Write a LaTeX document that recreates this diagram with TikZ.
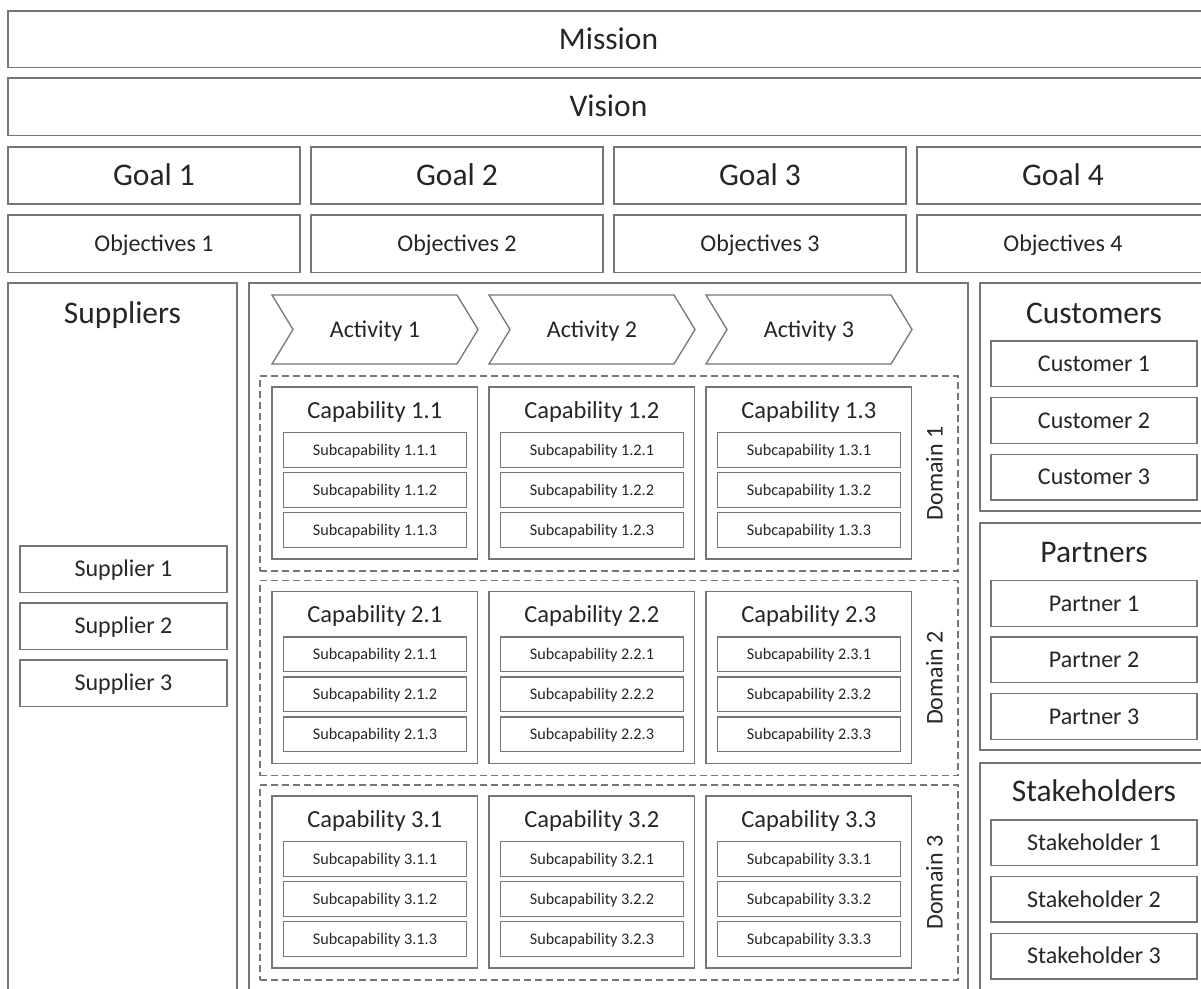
\documentclass[tikz,border=0pt]{standalone}
\usepackage{fontspec}
\setmainfont{Carlito}
\definecolor{linec}{RGB}{118,118,118}
\definecolor{txt}{RGB}{38,38,38}
% \rbox{style}{name}{x1}{y1}{x2}{y2}{text}
\newcommand\rbox[7]{%
  \pgfmathsetmacro{\rbcx}{(#3+#5)/2}%
  \pgfmathsetmacro{\rbcy}{(#4+#6)/2}%
  \pgfmathsetmacro{\rbw}{#5-#3}%
  \pgfmathsetmacro{\rbh}{#6-#4}%
  \node[#1, minimum width=\rbw pt, minimum height=\rbh pt] (#2) at (\rbcx,\rbcy) {#7};%
}
\begin{document}
\begin{tikzpicture}[x=1pt,y=-1pt,
  box/.style={draw=linec, line width=1.3pt, inner sep=0pt, outer sep=0pt, text=txt},
  bigbox/.style={box, font=\fontsize{31.5}{36}\selectfont, text height=20pt, text depth=0pt},
  midbox/.style={box, font=\fontsize{24}{28}\selectfont, text height=15.4pt, text depth=0pt},
  smallbox/.style={box, font=\fontsize{16.2}{19}\selectfont, text height=10.4pt, text depth=0pt},
  dombox/.style={draw=linec, line width=1.2pt, dash pattern=on 7pt off 4pt, inner sep=0pt, outer sep=0pt},
  bigtitle/.style={anchor=base, inner sep=0pt, text=txt, font=\fontsize{31.5}{36}\selectfont},
  captitle/.style={anchor=base, inner sep=0pt, text=txt, font=\fontsize{24.5}{28}\selectfont},
  midtext/.style={inner sep=0pt, text=txt, font=\fontsize{24}{28}\selectfont, text height=15.4pt, text depth=0pt},
  chev/.style={draw=linec, line width=1.3pt, fill=white}
]
\useasboundingbox[fill=white] (0,0) rectangle (1201,988);
\clip (0,0) rectangle (1201,988);

% top rows
\rbox{bigbox}{mission}{8}{11}{1209}{67.5}{Mission}
\rbox{bigbox}{vision}{8}{78}{1209}{135.5}{Vision}
\foreach \i in {0,1,2,3} {
  \pgfmathsetmacro{\xa}{8+303*\i}
  \pgfmathsetmacro{\xb}{\xa+292}
  \pgfmathtruncatemacro{\n}{\i+1}
  \rbox{bigbox}{goal\n}{\xa}{147}{\xb}{204}{Goal \n}
  \rbox{midbox}{obj\n}{\xa}{215}{\xb}{272.5}{Objectives \n}
}

% suppliers
\rbox{box}{suppliers}{8}{283}{237}{1000}{}
\node[bigtitle] (suptitle) at (122.5,323) {Suppliers};
\foreach \k in {0,1,2} {
  \pgfmathsetmacro{\ya}{546+57*\k}
  \pgfmathsetmacro{\yb}{\ya+46.3}
  \pgfmathtruncatemacro{\n}{\k+1}
  \rbox{midbox}{sup\n}{20}{\ya}{227}{\yb}{Supplier \n}
}

% central
\rbox{box}{central}{249}{283}{968}{1000}{}
\foreach \i in {0,1,2} {
  \pgfmathsetmacro{\xo}{272+217*\i}
  \pgfmathtruncatemacro{\n}{\i+1}
  \draw[chev] (\xo,295) -- ++(185,0) -- ++(21,34.5) -- ++(-21,34.5) -- ++(-185,0) -- ++(21,-34.5) -- cycle;
  \node[midtext] (act\n) at ({\xo+103},329.5) {Activity \n};
}
\foreach \j in {0,1,2} {
  \pgfmathsetmacro{\yd}{376+204.5*\j}
  \pgfmathsetmacro{\ydb}{\yd+195}
  \pgfmathtruncatemacro{\m}{\j+1}
  \rbox{dombox}{dom\m}{260}{\yd}{958}{\ydb}{}
  \node[midtext, rotate=90] (domlabel\m) at (935,{\yd+97.5}) {Domain \m};
  \foreach \i in {0,1,2} {
    \pgfmathsetmacro{\xc}{272+217*\i}
    \pgfmathsetmacro{\xcb}{\xc+205.5}
    \pgfmathsetmacro{\yc}{\yd+11}
    \pgfmathsetmacro{\ycb}{\yc+172}
    \pgfmathtruncatemacro{\n}{\i+1}
    \rbox{box}{cap\m\n}{\xc}{\yc}{\xcb}{\ycb}{}
    \node[captitle] (captitle\m\n) at ({\xc+102.75},{\yc+31}) {Capability \m.\n};
    \foreach \k in {0,1,2} {
      \pgfmathsetmacro{\ys}{\yc+45.5+40*\k}
      \pgfmathsetmacro{\ysb}{\ys+34.7}
      \pgfmathsetmacro{\xs}{\xc+11.5}
      \pgfmathsetmacro{\xsb}{\xc+194.5}
      \pgfmathtruncatemacro{\p}{\k+1}
      \rbox{smallbox}{sub\m\n\p}{\xs}{\ys}{\xsb}{\ysb}{Subcapability \m.\n.\p}
    }
  }
}

% right column
\rbox{box}{customers}{980}{283}{1209}{511}{}
\node[bigtitle] (custitle) at (1094,323.3) {Customers};
\rbox{box}{partners}{980}{523}{1209}{750}{}
\node[bigtitle] (partitle) at (1094,562.5) {Partners};
\rbox{box}{stakeholders}{980}{763}{1209}{1000}{}
\node[bigtitle] (stktitle) at (1094,801.5) {Stakeholders};
\foreach \k in {0,1,2} {
  \pgfmathtruncatemacro{\n}{\k+1}
  \pgfmathsetmacro{\ya}{341+56.6*\k}
  \pgfmathsetmacro{\yb}{\ya+45.7}
  \rbox{midbox}{cus\n}{991}{\ya}{1197}{\yb}{Customer \n}
  \pgfmathsetmacro{\ya}{580.5+56.6*\k}
  \pgfmathsetmacro{\yb}{\ya+45.7}
  \rbox{midbox}{par\n}{991}{\ya}{1197}{\yb}{Partner \n}
  \pgfmathsetmacro{\ya}{820+56.8*\k}
  \pgfmathsetmacro{\yb}{\ya+45.3}
  \rbox{midbox}{stk\n}{991}{\ya}{1197}{\yb}{Stakeholder \n}
}
\end{tikzpicture}
\end{document}
